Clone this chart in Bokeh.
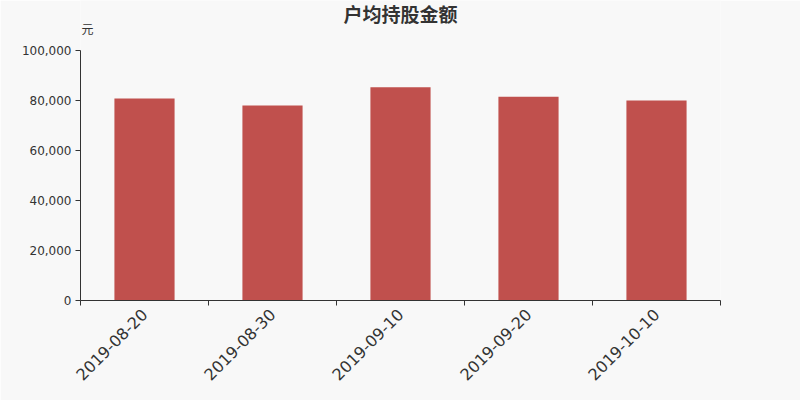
import math
from bokeh.plotting import figure
from bokeh.models import FixedTicker, NumeralTickFormatter, Range1d, Label, ColumnDataSource
from bokeh.embed import file_html
from bokeh.resources import INLINE

dates = ["2019-08-20", "2019-08-30", "2019-09-10", "2019-09-20", "2019-10-10"]
values = [80800, 78000, 85300, 81500, 80000]
y_ticks = [0, 20000, 40000, 60000, 80000, 100000]
title_text = "户均持股金额"
unit_text = "元"

BG = "#f8f8f8"
BAR = "#c0504d"
AX = "#333333"

n = len(dates)
y_max = 100000
units_per_px = y_max / 250.0  # 250 px for 0..100000

xs = [i + 0.5 for i in range(n)]
src = ColumnDataSource(dict(x=xs, top=values, label=dates))

# frame extended to the top of the canvas so that the title and unit
# texts can live inside it; the y axis is bounded to the data area
y_top = y_max + 50 * units_per_px

p = figure(width=800, height=400, output_backend="svg", toolbar_location=None,
           x_range=Range1d(0, n), y_range=Range1d(0, y_top),
           min_border_left=80, min_border_right=80, min_border_top=0, min_border_bottom=100)
p.title = None
p.background_fill_color = BG
p.border_fill_color = BG
p.outline_line_color = None
p.grid.visible = False

p.vbar(x="x", top="top", width=0.47, source=src, fill_color=BAR, line_color=None)

p.add_layout(Label(x=n / 2, y=y_max + (50 - 13) * units_per_px, text=title_text,
                   text_align="center", text_baseline="middle",
                   text_font="Noto Sans CJK SC", text_font_size="19px",
                   text_font_style="bold", text_color=AX))
p.add_layout(Label(x=0, y=y_max + (50 - 28) * units_per_px, text=unit_text,
                   text_align="left", text_baseline="middle", x_offset=1,
                   text_font="Noto Sans CJK SC", text_font_size="12px", text_color=AX))

# x axis
xa = p.xaxis[0]
xa.ticker = FixedTicker(ticks=xs, minor_ticks=list(range(n + 1)))
xa.major_label_overrides = {x: d for x, d in zip(xs, dates)}
xa.major_label_orientation = math.pi / 4
xa.major_label_text_font = "DejaVu Sans"
xa.major_label_text_font_size = "16px"
xa.major_label_text_color = AX
xa.major_tick_in = 0
xa.major_tick_out = 0
xa.minor_tick_in = 0
xa.minor_tick_out = 5
xa.minor_tick_line_color = AX
xa.axis_line_color = AX
xa.major_label_standoff = 6

# y axis
ya = p.yaxis[0]
ya.bounds = (0, y_max)
ya.ticker = FixedTicker(ticks=y_ticks)
ya.formatter = NumeralTickFormatter(format="0,0")
ya.major_label_text_font = "DejaVu Sans"
ya.major_label_text_font_size = "12px"
ya.major_label_text_color = AX
ya.major_tick_in = 0
ya.major_tick_out = 5
ya.major_tick_line_color = AX
ya.minor_tick_line_color = None
ya.axis_line_color = AX
ya.major_label_standoff = 4

html = file_html(p, INLINE)
open("out.html", "w").write(html)
